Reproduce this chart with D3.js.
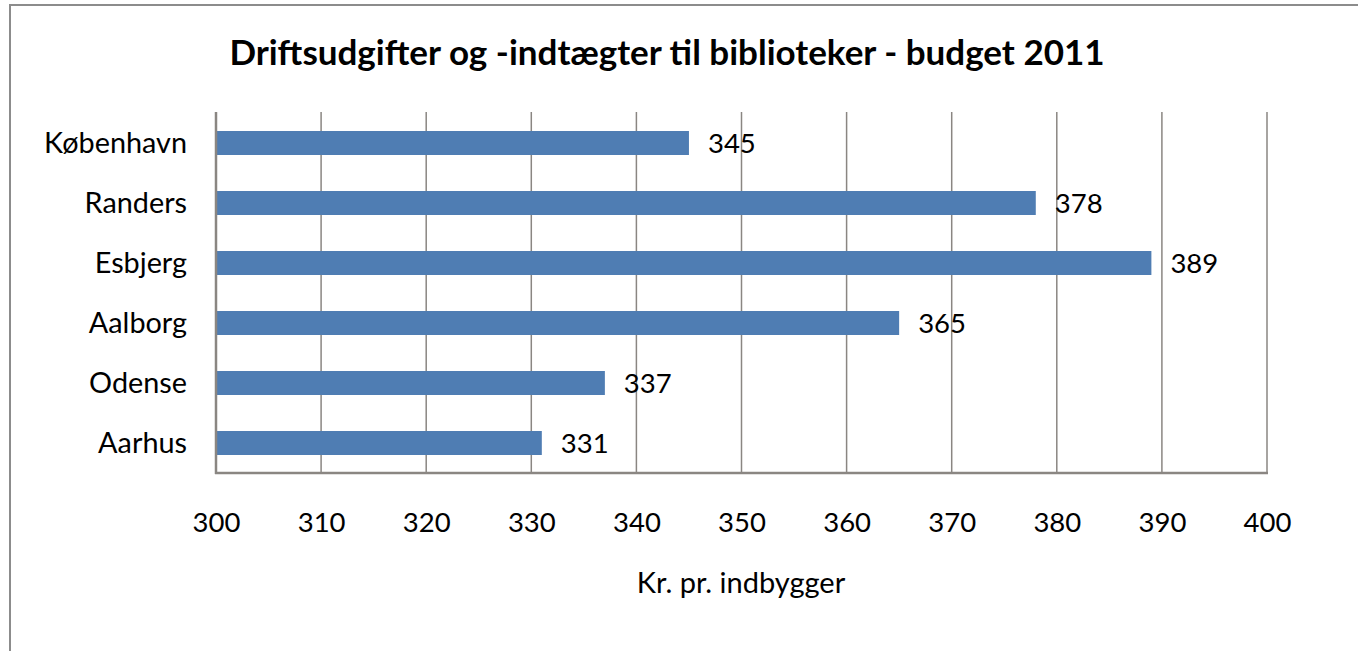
<!DOCTYPE html>
<html>
<head>
<meta charset="utf-8">
<script src="https://cdn.jsdelivr.net/npm/d3@7"></script>
<style>
  html, body { margin: 0; padding: 0; background: #fff; }
  svg { display: block; font-family: Lato, "Open Sans", sans-serif; }
</style>
</head>
<body>
<svg id="chart" width="1358" height="651"></svg>
<script>
// data
const categories = ['København', 'Randers', 'Esbjerg', 'Aalborg', 'Odense', 'Aarhus'];
const values = [345, 378, 389, 365, 337, 331];
const xTicks = [300, 310, 320, 330, 340, 350, 360, 370, 380, 390, 400];
const title = 'Driftsudgifter og -indtægter til biblioteker - budget 2011';
const xTitle = 'Kr. pr. indbygger';

const svg = d3.select('#chart');
const grey = '#8a8682';
const barColor = '#4f7db3';

// chart frame (right/bottom edges fall outside the picture)
svg.append('rect')
  .attr('x', 10).attr('y', 5).attr('width', 1360).attr('height', 660)
  .attr('fill', '#fff').attr('stroke', '#8c8c8c').attr('stroke-width', 2);

const x = d3.scaleLinear().domain([300, 400]).range([216, 1267]);
const y = d3.scaleBand().domain(categories).range([113, 473])
  .paddingInner(0.6).paddingOuter(0.3);

// vertical gridlines
svg.append('g').selectAll('line')
  .data(xTicks.slice(1))
  .join('line')
  .attr('x1', d => x(d)).attr('x2', d => x(d))
  .attr('y1', 112).attr('y2', 473)
  .attr('stroke', grey).attr('stroke-width', 1.5);

// bars
svg.append('g').selectAll('rect')
  .data(values)
  .join('rect')
  .attr('x', x(300))
  .attr('y', (d, i) => y(categories[i]))
  .attr('width', d => x(d) - x(300))
  .attr('height', y.bandwidth())
  .attr('fill', barColor);

// value labels
svg.append('g').selectAll('text')
  .data(values)
  .join('text')
  .attr('x', d => x(d) + 19)
  .attr('y', (d, i) => y(categories[i]) + y.bandwidth() / 2)
  .attr('dy', '0.36em')
  .attr('font-size', 27.5)
  .attr('fill', '#000')
  .text(d => d);

// axes lines
svg.append('line')
  .attr('x1', x(300)).attr('x2', x(300)).attr('y1', 112).attr('y2', 474)
  .attr('stroke', grey).attr('stroke-width', 2.5);
svg.append('line')
  .attr('x1', x(300) - 1).attr('x2', x(400) + 1).attr('y1', 473).attr('y2', 473)
  .attr('stroke', grey).attr('stroke-width', 2.5);

// x axis tick labels
const xAxis = d3.axisBottom(x).tickValues(xTicks).tickSize(0).tickPadding(0);
const gx = svg.append('g').attr('transform', 'translate(0,473)').call(xAxis);
gx.select('.domain').remove();
gx.selectAll('text')
  .attr('y', 49).attr('dy', '0.36em')
  .attr('font-size', 27.5).attr('font-family', 'Lato, "Open Sans", sans-serif')
  .attr('fill', '#000');

// y axis category labels
const yAxis = d3.axisLeft(y).tickSize(0).tickPadding(29);
const gy = svg.append('g').attr('transform', `translate(${x(300)},0)`).call(yAxis);
gy.select('.domain').remove();
gy.selectAll('text')
  .attr('dy', '0.36em')
  .attr('font-size', 28.8).attr('font-family', 'Lato, "Open Sans", sans-serif')
  .attr('fill', '#000');

// titles
svg.append('text')
  .attr('x', 667).attr('y', 52).attr('dy', '0.36em')
  .attr('text-anchor', 'middle')
  .attr('font-size', 35).attr('font-weight', 'bold')
  .text(title);

svg.append('text')
  .attr('x', 741).attr('y', 583).attr('dy', '0.36em')
  .attr('text-anchor', 'middle')
  .attr('font-size', 29)
  .text(xTitle);
</script>
</body>
</html>
